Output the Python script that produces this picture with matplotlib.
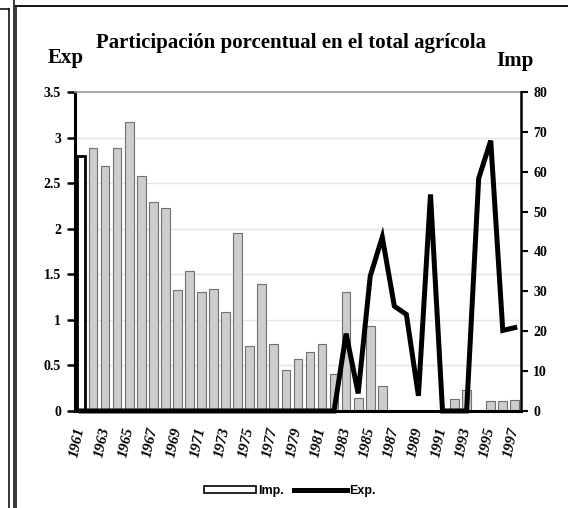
import matplotlib
matplotlib.use("Agg")
import matplotlib.pyplot as plt
from matplotlib.patches import Patch
from matplotlib.lines import Line2D
import numpy as np

# ================================
# Datos
# ================================

years = list(range(1961, 1998))

# Importaciones, eje izquierdo (0 - 3.5)
imp = [2.80, 2.89, 2.69, 2.88, 3.17, 2.58, 2.29, 2.23, 1.33, 1.54,
       1.31, 1.34, 1.09, 1.95, 0.71, 1.39, 0.74, 0.45, 0.57, 0.65,
       0.74, 0.41, 1.30, 0.14, 0.93, 0.27, 0.0, 0.0, 0.0, 0.0,
       0.0, 0.13, 0.23, 0.0, 0.11, 0.11, 0.12]

# Exportaciones, eje derecho (0 - 80)
exp = [0, 0, 0, 0, 0, 0, 0, 0, 0, 0,
       0, 0, 0, 0, 0, 0, 0, 0, 0, 0,
       0, 0, 19.4, 4.4, 33.8, 43.6, 26.3, 24.2, 3.8, 54.3,
       0, 0, 0, 58.3, 67.8, 20.2, 20.9]

left_ticks = [0, 0.5, 1, 1.5, 2, 2.5, 3, 3.5]
left_labels = ["0", "0.5", "1", "1.5", "2", "2.5", "3", "3.5"]
right_ticks = [0, 10, 20, 30, 40, 50, 60, 70, 80]
xtick_labels = [str(y) for y in years[::2]]

# ================================
# Figura
# ================================

serif = ["Liberation Serif", "DejaVu Serif"]
narrow = ["Liberation Sans Narrow", "Liberation Sans", "DejaVu Sans"]

fig = plt.figure(figsize=(5.68, 5.08), dpi=100)
ax = fig.add_axes([0.132, 0.191, 0.785, 0.628])
x = np.arange(len(years))

bar_colors = ["white"] + ["#cdcdcd"] * (len(years) - 1)
edge_colors = ["black"] + ["#707070"] * (len(years) - 1)
edge_widths = [2.0] + [0.8] * (len(years) - 1)
ax.bar(x, imp, width=0.72, color=bar_colors, edgecolor=edge_colors,
       linewidth=edge_widths, zorder=2)

ax.set_xlim(-0.5, len(years) - 0.5)
ax.set_ylim(0, 3.5)
ax.set_yticks(left_ticks)
ax.set_yticklabels(left_labels, family=serif, fontweight="bold", fontsize=10)
ax.yaxis.grid(True, color="#e4e4e4", linewidth=1.0, zorder=0)
ax.set_axisbelow(True)

ax.set_xticks(x[::2])
ax.set_xticklabels(xtick_labels, rotation=78, ha="right", va="center",
                   rotation_mode="anchor", family=serif, fontweight="bold",
                   fontstyle="italic", fontsize=11)
ax.tick_params(axis="x", length=0, pad=12)
ax.tick_params(axis="y", length=6, width=1.8, direction="out", pad=4)

ax.spines["left"].set_linewidth(2.2)
ax.spines["bottom"].set_linewidth(2.2)
ax.spines["top"].set_color("#9a9a9a")
ax.spines["top"].set_linewidth(1.2)
ax.spines["right"].set_visible(False)

ax2 = ax.twinx()
ax2.plot(x, exp, color="black", linewidth=3.6, solid_joinstyle="miter",
         zorder=3, clip_on=False)
ax2.set_ylim(0, 80)
ax2.set_yticks(right_ticks)
ax2.set_yticklabels([str(t) for t in right_ticks], family=serif,
                    fontweight="bold", fontsize=10)
ax2.tick_params(axis="y", length=5, width=1.5, direction="out", pad=4)
ax2.spines["right"].set_linewidth(1.8)
for s in ["top", "left", "bottom"]:
    ax2.spines[s].set_visible(False)

# Títulos
fig.text(0.512, 0.905, "Participación porcentual en el total agrícola",
         ha="center", va="baseline", family=serif, fontweight="bold",
         fontsize=15)
fig.text(0.083, 0.876, "Exp", ha="left", va="baseline", family=serif,
         fontweight="bold", fontsize=15)
fig.text(0.873, 0.870, "Imp", ha="left", va="baseline", family=serif,
         fontweight="bold", fontsize=15)

# Leyenda
handles = [Patch(facecolor="white", edgecolor="black", linewidth=1.2),
           Line2D([0], [0], color="black", linewidth=3.6)]
fig.legend(handles, ["Imp.", "Exp."], loc="center",
           bbox_to_anchor=(0.51, 1 - 491 / 508), ncol=2, frameon=False,
           prop={"family": narrow, "weight": "bold", "size": 9},
           handlelength=4.2, handleheight=0.55, handletextpad=0.2,
           columnspacing=0.8)

# Marcos de la página
fig.add_artist(Line2D([9 / 568, 9 / 568], [0, 1 - 9 / 508], color="black", lw=1.1))
fig.add_artist(Line2D([0, 9 / 568], [1 - 9 / 508, 1 - 9 / 508], color="black", lw=1.1))
fig.add_artist(Line2D([14 / 568, 14 / 568], [0, 1], color="black", lw=1.1))
fig.add_artist(Line2D([16 / 568, 16 / 568], [0, 1 - 6 / 508], color="black", lw=1.1))
fig.add_artist(Line2D([16 / 568, 1], [1 - 6 / 508, 1 - 6 / 508], color="black", lw=1.3))

fig.savefig("out.png", dpi=100)
